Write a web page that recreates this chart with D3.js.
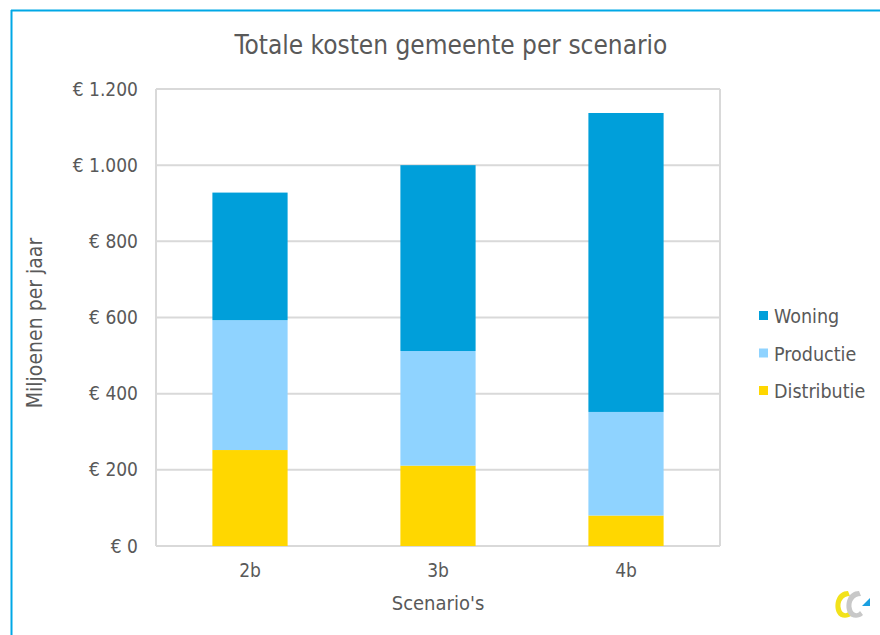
<!DOCTYPE html>
<html>
<head>
<meta charset="utf-8">
<script src="https://cdn.jsdelivr.net/npm/d3@7"></script>
<style>
  html, body { margin: 0; padding: 0; background: #fff; }
  svg { display: block; }
  text { font-family: "DejaVu Sans Condensed", "DejaVu Sans", sans-serif; fill: #595959; }
</style>
</head>
<body>
<svg id="chart" width="880" height="635"></svg>
<script>
// Kosten (miljoen euro per jaar) per scenario, per component
const scenarios = ["2b", "3b", "4b"];
const distributie = [252, 211, 80];
const productie = [341, 301, 272];
const woning = [335, 488, 785];
const seriesNames = ["Distributie", "Productie", "Woning"];
const seriesColors = ["#FFD700", "#8FD3FF", "#009FDA"];
const yTicks = [0, 200, 400, 600, 800, 1000, 1200];

const rows = scenarios.map((s, i) => ({
  scenario: s,
  Distributie: distributie[i],
  Productie: productie[i],
  Woning: woning[i]
}));

const svg = d3.select("#chart");
const margin = { left: 156, right: 720, top: 89, bottom: 546 };

// outer frame lines (top and left)
svg.append("line").attr("x1", 11).attr("x2", 880).attr("y1", 10.5).attr("y2", 10.5)
  .attr("stroke", "#00A8E6").attr("stroke-width", 2);
svg.append("line").attr("x1", 11.5).attr("x2", 11.5).attr("y1", 10).attr("y2", 635)
  .attr("stroke", "#00A8E6").attr("stroke-width", 2);

const x = d3.scaleBand().domain(scenarios)
  .range([margin.left, margin.right]).paddingInner(0.6).paddingOuter(0.3);
const y = d3.scaleLinear().domain([0, 1200]).range([margin.bottom, margin.top]);

// gridlines
svg.append("g").selectAll("line").data(yTicks).join("line")
  .attr("x1", margin.left).attr("x2", margin.right)
  .attr("y1", d => y(d)).attr("y2", d => y(d))
  .attr("stroke", "#D9D9D9").attr("stroke-width", 2);

// plot area side borders
svg.append("line").attr("x1", margin.left).attr("x2", margin.left)
  .attr("y1", margin.top).attr("y2", margin.bottom)
  .attr("stroke", "#D9D9D9").attr("stroke-width", 2);
svg.append("line").attr("x1", margin.right).attr("x2", margin.right)
  .attr("y1", margin.top).attr("y2", margin.bottom)
  .attr("stroke", "#D9D9D9").attr("stroke-width", 2);

// stacked bars
const stack = d3.stack().keys(seriesNames)(rows);
const color = d3.scaleOrdinal().domain(seriesNames).range(seriesColors);
svg.append("g").selectAll("g").data(stack).join("g")
  .attr("fill", d => color(d.key))
  .selectAll("rect").data(d => d).join("rect")
  .attr("x", d => x(d.data.scenario))
  .attr("width", x.bandwidth())
  .attr("y", d => y(d[1]))
  .attr("height", d => y(d[0]) - y(d[1]));

// y axis labels
const fmt = v => "€ " + d3.format(",")(v).replace(/,/g, ".");
const yAxis = d3.axisLeft(y).tickValues(yTicks).tickFormat(fmt).tickSize(0).tickPadding(18);
const ya = svg.append("g").attr("transform", `translate(${margin.left},0)`).call(yAxis);
ya.select(".domain").remove();
ya.selectAll("text").style("font-size", "19px").attr("fill", "#595959")
  .attr("font-family", null);

// x axis labels
const xAxis = d3.axisBottom(x).tickSize(0).tickPadding(18);
const xa = svg.append("g").attr("transform", `translate(0,${margin.bottom})`).call(xAxis);
xa.select(".domain").remove();
xa.selectAll("text").style("font-size", "19px").attr("fill", "#595959")
  .attr("font-family", null);

// title
svg.append("text").attr("x", 451).attr("y", 54).attr("text-anchor", "middle")
  .style("font-size", "26px").text("Totale kosten gemeente per scenario");

// axis titles
svg.append("text").attr("x", 438).attr("y", 610).attr("text-anchor", "middle")
  .style("font-size", "20px").text("Scenario's");
svg.append("text").attr("transform", "translate(42,323) rotate(-90)")
  .attr("text-anchor", "middle").style("font-size", "21px").text("Miljoenen per jaar");

// legend (top to bottom: Woning, Productie, Distributie)
const legendItems = seriesNames.slice().reverse();
const lg = svg.append("g").selectAll("g").data(legendItems).join("g")
  .attr("transform", (d, i) => `translate(759,${316 + i * 37.5})`);
lg.append("rect").attr("x", 0).attr("y", -5).attr("width", 9).attr("height", 9)
  .attr("fill", d => color(d));
lg.append("text").attr("x", 15).attr("y", 7).style("font-size", "19.5px").text(d => d);

// small logo mark, bottom right
const logo = svg.append("g").attr("transform", "translate(833,589)");
logo.append("path")
  .attr("d", "M15,2 C4,2 0,15 4,24 C7,30 15,30 19,26 L16,22 C13,26 9,24 8,20 C6,13 10,7 17,7 Z")
  .attr("fill", "#F2E21B");
logo.append("path")
  .attr("d", "M26,2 C15,2 11,15 15,24 C18,30 26,30 30,26 L27,22 C24,26 20,24 19,20 C17,13 21,7 28,7 Z")
  .attr("fill", "#C8C8C8");
logo.append("path").attr("d", "M29,17 L37,9 L37,17 Z").attr("fill", "#1A9FE0");
</script>
</body>
</html>
